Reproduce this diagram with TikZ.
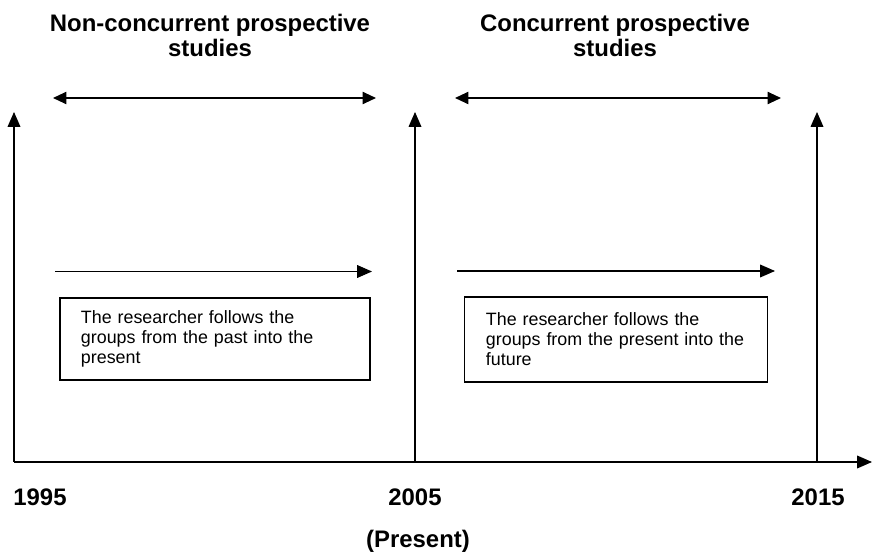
\documentclass[tikz,border=0pt]{standalone}
\usepackage{fontspec}
\setmainfont{Liberation Sans}
\usetikzlibrary{arrows.meta}

\begin{document}
\begin{tikzpicture}[x=0.025cm,y=-0.025cm,
    heading/.style={font=\fontsize{17}{17.8}\selectfont\bfseries,align=center,inner sep=0pt,anchor=base},
    year/.style={font=\fontsize{17}{17.8}\selectfont\bfseries,inner sep=0pt,anchor=base},
    notebox/.style={draw,line width=0.9pt,align=left,font=\fontsize{12.7}{14.3}\selectfont,inner ysep=0pt},
    uparrow/.style={-{Triangle[length=10.5pt,width=9pt]},line width=0.8pt},
    twoway/.style={{Triangle[length=10.5pt,width=9.5pt]}-{Triangle[length=10.5pt,width=9.5pt]},line width=1.4pt}]
    \useasboundingbox (0,0) rectangle (876,557);

    \coordinate (b1995) at (14,462);
    \coordinate (b2005) at (415,462);
    \coordinate (b2015) at (817,462);
    \coordinate (t1995) at (14,112);
    \coordinate (t2005) at (415,112);
    \coordinate (t2015) at (817,112);
    \coordinate (axisend) at (872,462);

    \coordinate (pastL) at (52,98);
    \coordinate (pastR) at (377,98);
    \coordinate (nowL) at (454,98);
    \coordinate (nowR) at (782,98);
    \coordinate (followL) at (55,271.5);
    \coordinate (followR) at (372,271.5);
    \coordinate (aheadL) at (457,271);
    \coordinate (aheadR) at (775,271);

    \node[heading] (noncon) at (210,57) {Non-concurrent prospective\\studies};
    \node[heading] (concur) at (615,57) {Concurrent prospective\\studies};

    \node[notebox,text width=6.7cm,inner xsep=0.525cm,minimum height=2.05cm] (pastbox) at (215,339)
        {The researcher follows the\\groups from the past into the\\present};
    \node[notebox,text width=6.5cm,inner xsep=0.54cm,minimum height=2.125cm] (futurebox) at (616,339.5)
        {The researcher follows the\\groups from the present into the\\future};

    \node[year] (y1995) at (40,505) {1995};
    \node[year] (y2005) at (415,505) {2005};
    \node[year] (y2015) at (818,505) {2015};
    \node[year] (present) at (418,547) {(Present)};

    \path
	(b1995) [uparrow] edge (t1995)
	(b2005) [uparrow] edge (t2005)
	(b2015) [uparrow] edge (t2015)
	(b1995) [uparrow] edge (axisend)
	(pastL) [twoway] edge (pastR)
	(nowL) [twoway] edge (nowR)
	(followL) [uparrow] edge (followR)
	(aheadL) [uparrow] edge (aheadR);
\end{tikzpicture}
\end{document}
